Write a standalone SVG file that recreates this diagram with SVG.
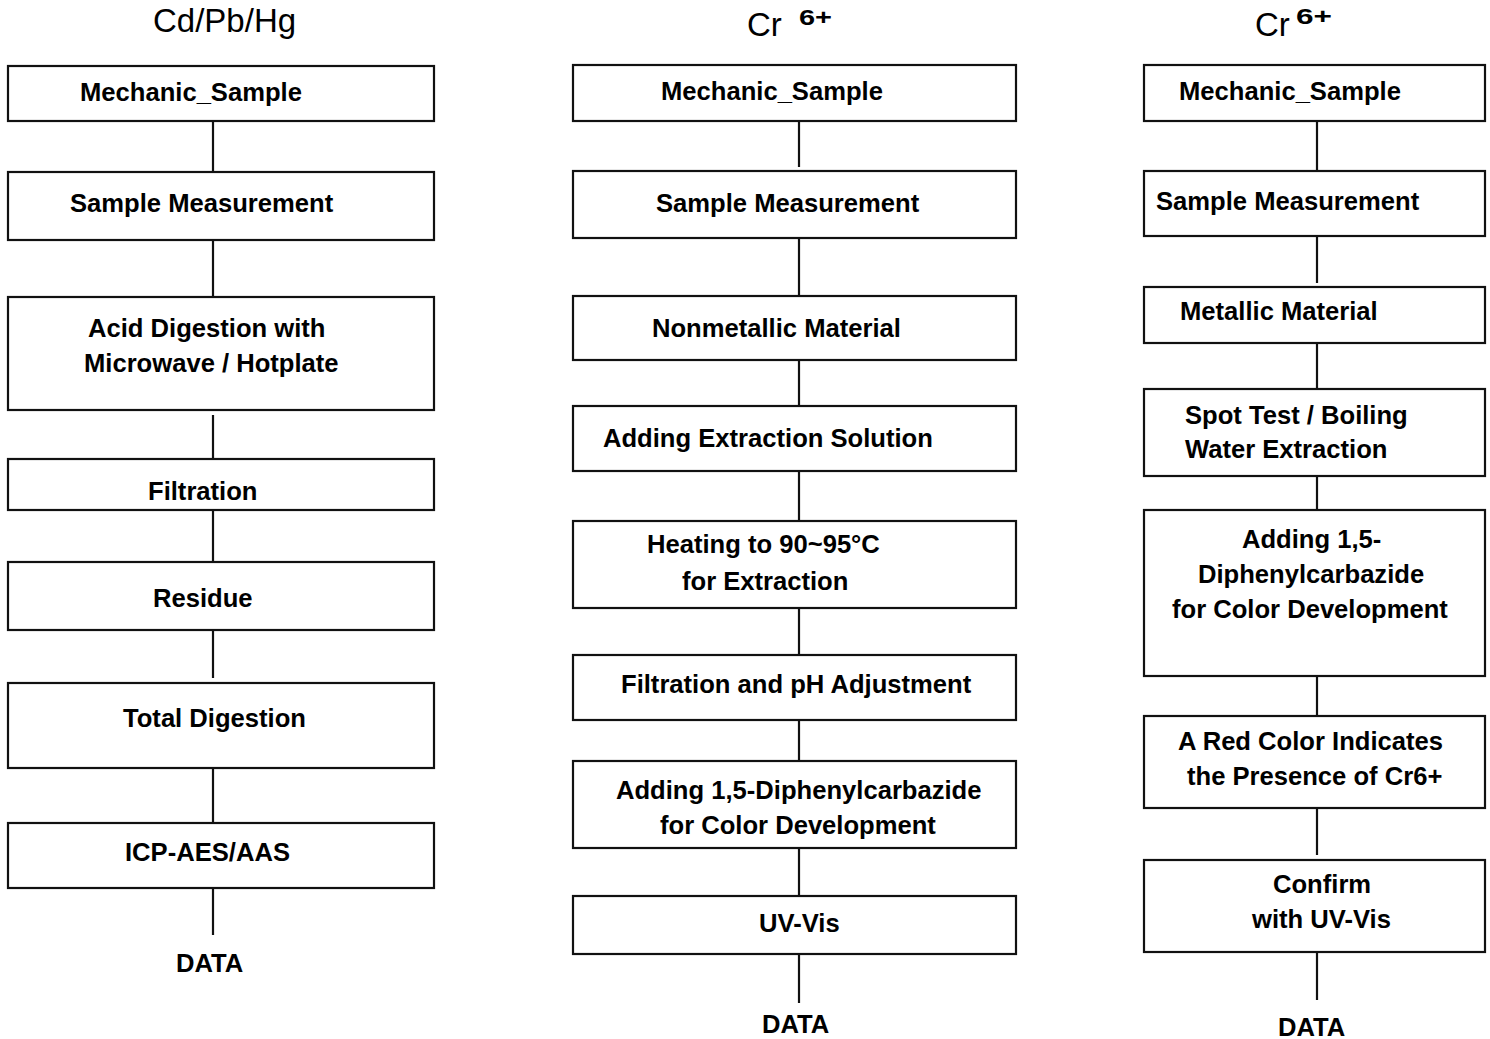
<svg xmlns="http://www.w3.org/2000/svg" width="1490" height="1039" viewBox="0 0 1490 1039">
<style>
.box{fill:#fff;stroke:#111;stroke-width:2.2}
.t{font-family:"Liberation Sans",Arial,sans-serif;font-weight:bold;font-size:25.6px;fill:#000}
.h{font-family:"Liberation Sans",Arial,sans-serif;font-size:33px;fill:#000}
.sup{font-family:"Liberation Sans",Arial,sans-serif;font-weight:bold;font-size:22px;fill:#000}
.c line{stroke:#111;stroke-width:2.2}
</style>
<rect width="1490" height="1039" fill="#fff"/>
<g id="headers">
<text class="h" x="153" y="32">Cd/Pb/Hg</text>
<text class="h" x="747" y="36">Cr</text><text class="sup" x="799" y="25" textLength="33" lengthAdjust="spacingAndGlyphs">6+</text>
<text class="h" x="1255" y="36">Cr</text><text class="sup" x="1296" y="24" textLength="36" lengthAdjust="spacingAndGlyphs">6+</text>
</g>
<g id="connectors" class="c">
<line x1="213" y1="121" x2="213" y2="172"/>
<line x1="213" y1="240" x2="213" y2="297"/>
<line x1="213" y1="415" x2="213" y2="465"/>
<line x1="213" y1="510" x2="213" y2="566"/>
<line x1="213" y1="630" x2="213" y2="678"/>
<line x1="213" y1="768" x2="213" y2="823"/>
<line x1="213" y1="885" x2="213" y2="935"/>
<line x1="799" y1="121" x2="799" y2="167"/>
<line x1="799" y1="238" x2="799" y2="296"/>
<line x1="799" y1="357" x2="799" y2="406"/>
<line x1="799" y1="471" x2="799" y2="521"/>
<line x1="799" y1="607" x2="799" y2="655"/>
<line x1="799" y1="717" x2="799" y2="761"/>
<line x1="799" y1="848" x2="799" y2="896"/>
<line x1="799" y1="952" x2="799" y2="1003"/>
<line x1="1317" y1="121" x2="1317" y2="171"/>
<line x1="1317" y1="236" x2="1317" y2="283"/>
<line x1="1317" y1="343" x2="1317" y2="389"/>
<line x1="1317" y1="476" x2="1317" y2="515"/>
<line x1="1317" y1="676" x2="1317" y2="724"/>
<line x1="1317" y1="808" x2="1317" y2="855"/>
<line x1="1317" y1="952" x2="1317" y2="1000"/>
</g>
<g id="c1-mechanic"><rect class="box" x="8" y="66" width="426" height="55"/><text class="t" x="80" y="101">Mechanic_Sample</text></g>
<g id="c1-measure"><rect class="box" x="8" y="172" width="426" height="68"/><text class="t" x="70" y="212">Sample Measurement</text></g>
<g id="c1-acid"><rect class="box" x="8" y="297" width="426" height="113"/><text class="t" x="88" y="337">Acid Digestion with</text><text class="t" x="84" y="372">Microwave / Hotplate</text></g>
<g id="c1-filtration"><rect class="box" x="8" y="459" width="426" height="51"/><text class="t" x="148" y="500">Filtration</text></g>
<g id="c1-residue"><rect class="box" x="8" y="562" width="426" height="68"/><text class="t" x="153" y="607">Residue</text></g>
<g id="c1-total"><rect class="box" x="8" y="683" width="426" height="85"/><text class="t" x="123" y="727">Total Digestion</text></g>
<g id="c1-icp"><rect class="box" x="8" y="823" width="426" height="65"/><text class="t" x="125" y="861">ICP-AES/AAS</text></g>
<g id="c1-data"><text class="t" x="176" y="972">DATA</text></g>
<g id="c2-mechanic"><rect class="box" x="573" y="65" width="443" height="56"/><text class="t" x="661" y="100">Mechanic_Sample</text></g>
<g id="c2-measure"><rect class="box" x="573" y="171" width="443" height="67"/><text class="t" x="656" y="212">Sample Measurement</text></g>
<g id="c2-nonmetallic"><rect class="box" x="573" y="296" width="443" height="64"/><text class="t" x="652" y="337">Nonmetallic Material</text></g>
<g id="c2-extraction"><rect class="box" x="573" y="406" width="443" height="65"/><text class="t" x="603" y="447">Adding Extraction Solution</text></g>
<g id="c2-heating"><rect class="box" x="573" y="521" width="443" height="87"/><text class="t" x="647" y="553">Heating to 90~95°C</text><text class="t" x="682" y="590">for Extraction</text></g>
<g id="c2-filtration"><rect class="box" x="573" y="655" width="443" height="65"/><text class="t" x="621" y="693">Filtration and pH Adjustment</text></g>
<g id="c2-adding"><rect class="box" x="573" y="761" width="443" height="87"/><text class="t" x="616" y="799">Adding 1,5-Diphenylcarbazide</text><text class="t" x="660" y="834">for Color Development</text></g>
<g id="c2-uvvis"><rect class="box" x="573" y="896" width="443" height="58"/><text class="t" x="759" y="932">UV-Vis</text></g>
<g id="c2-data"><text class="t" x="762" y="1033">DATA</text></g>
<g id="c3-mechanic"><rect class="box" x="1144" y="65" width="341" height="56"/><text class="t" x="1179" y="100">Mechanic_Sample</text></g>
<g id="c3-measure"><rect class="box" x="1144" y="171" width="341" height="65"/><text class="t" x="1156" y="210">Sample Measurement</text></g>
<g id="c3-metallic"><rect class="box" x="1144" y="287" width="341" height="56"/><text class="t" x="1180" y="320">Metallic Material</text></g>
<g id="c3-spot"><rect class="box" x="1144" y="389" width="341" height="87"/><text class="t" x="1185" y="424">Spot Test / Boiling</text><text class="t" x="1185" y="458">Water Extraction</text></g>
<g id="c3-adding"><rect class="box" x="1144" y="510" width="341" height="166"/><text class="t" x="1242" y="548">Adding 1,5-</text><text class="t" x="1198" y="583">Diphenylcarbazide</text><text class="t" x="1172" y="618">for Color Development</text></g>
<g id="c3-red"><rect class="box" x="1144" y="716" width="341" height="92"/><text class="t" x="1178" y="750">A Red Color Indicates</text><text class="t" x="1187" y="785">the Presence of Cr6+</text></g>
<g id="c3-confirm"><rect class="box" x="1144" y="860" width="341" height="92"/><text class="t" x="1273" y="893">Confirm</text><text class="t" x="1252" y="928">with UV-Vis</text></g>
<g id="c3-data"><text class="t" x="1278" y="1036">DATA</text></g>
</svg>
